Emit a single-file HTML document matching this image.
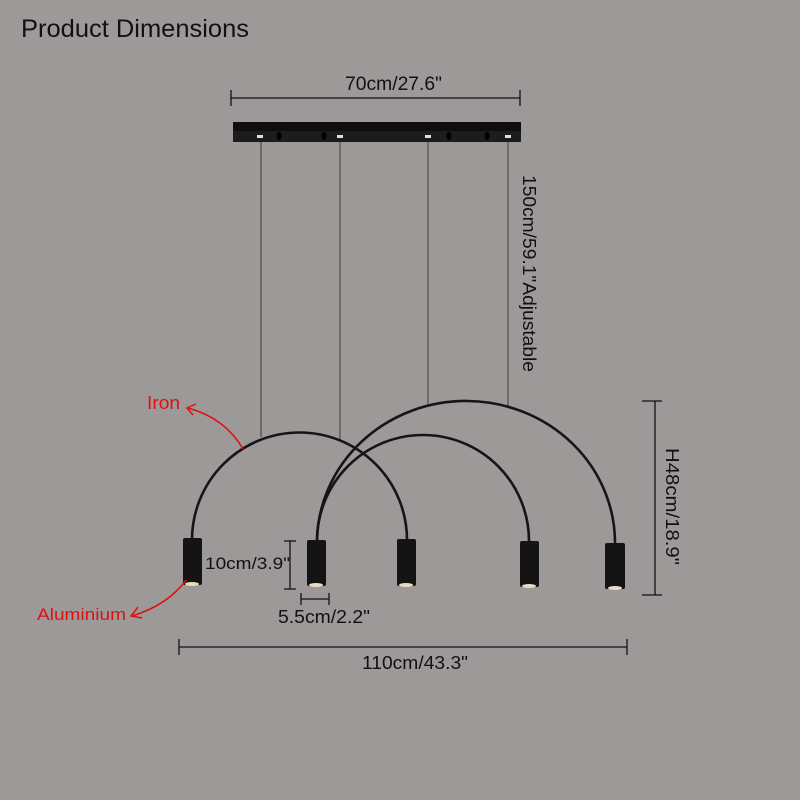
<!DOCTYPE html>
<html><head><style>html,body{margin:0;padding:0;background:#9c9998}svg{display:block}</style></head><body>
<svg width="800" height="800" viewBox="0 0 800 800" xmlns="http://www.w3.org/2000/svg" font-family="Liberation Sans, Arial, sans-serif">
<rect width="800" height="800" fill="#9c9998"/>
<text x="21" y="37" font-size="25" fill="#111" textLength="228" lengthAdjust="spacingAndGlyphs">Product Dimensions</text>
<g stroke="#111" stroke-width="1.3">
<line x1="231" y1="98" x2="520" y2="98"/><line x1="231" y1="90" x2="231" y2="106"/><line x1="520" y1="90" x2="520" y2="106"/>
</g>
<text x="345" y="90" font-size="19" fill="#111" textLength="97" lengthAdjust="spacingAndGlyphs">70cm/27.6"</text>
<rect x="233" y="122" width="288" height="20" fill="#1c1c1c"/>
<rect x="233" y="122" width="288" height="9" fill="#0e0e0e"/>
<g fill="#ddd"><rect x="257" y="135" width="6" height="3"/><rect x="337" y="135" width="6" height="3"/><rect x="425" y="135" width="6" height="3"/><rect x="505" y="135" width="6" height="3"/></g>
<g fill="#000"><ellipse cx="279" cy="136" rx="2.5" ry="4"/><ellipse cx="324" cy="136" rx="2.5" ry="4"/><ellipse cx="449" cy="136" rx="2.5" ry="4"/><ellipse cx="487" cy="136" rx="2.5" ry="4"/></g>
<g stroke="#333" stroke-width="0.9">
<line x1="261" y1="142" x2="261" y2="437"/><line x1="340" y1="142" x2="340" y2="440"/><line x1="428" y1="142" x2="428" y2="404"/><line x1="508" y1="142" x2="508" y2="407"/>
</g>
<text transform="translate(523,175) rotate(90)" font-size="18" fill="#111" textLength="197" lengthAdjust="spacingAndGlyphs">150cm/59.1"Adjustable</text>
<g fill="none" stroke="#151515" stroke-width="2.6">
<path d="M192,540 A107,107 0 0 1 407,540"/>
<path d="M317,541 A106,106 0 0 1 529,541"/>
<path d="M317,541 A149,142 0 0 1 615,545"/>
</g>
<g fill="#141414">
<rect x="183" y="538" width="19" height="47" rx="2"/>
<rect x="307" y="540" width="19" height="46" rx="2"/>
<rect x="397" y="539" width="19" height="47" rx="2"/>
<rect x="520" y="541" width="19" height="46" rx="2"/>
<rect x="605" y="543" width="20" height="46" rx="2"/>
</g>
<g fill="#e8dcc0"><ellipse cx="192" cy="584" rx="7" ry="2"/><ellipse cx="316" cy="585" rx="7" ry="2"/><ellipse cx="406" cy="585" rx="7" ry="2"/><ellipse cx="529" cy="586" rx="7" ry="2"/><ellipse cx="615" cy="588" rx="7" ry="2"/></g>
<g stroke="#111" stroke-width="1.3">
<line x1="655" y1="401" x2="655" y2="595"/><line x1="642" y1="401" x2="662" y2="401"/><line x1="642" y1="595" x2="662" y2="595"/>
<line x1="290" y1="541" x2="290" y2="589"/><line x1="284" y1="541" x2="296" y2="541"/><line x1="284" y1="589" x2="296" y2="589"/>
<line x1="301" y1="599" x2="329" y2="599"/><line x1="301" y1="593" x2="301" y2="605"/><line x1="329" y1="593" x2="329" y2="605"/>
<line x1="179" y1="647" x2="627" y2="647"/><line x1="179" y1="639" x2="179" y2="655"/><line x1="627" y1="639" x2="627" y2="655"/>
</g>
<text transform="translate(666,448) rotate(90)" font-size="18" fill="#111" textLength="117" lengthAdjust="spacingAndGlyphs">H48cm/18.9"</text>
<text x="205" y="569" font-size="17" fill="#111" textLength="85" lengthAdjust="spacingAndGlyphs">10cm/3.9"</text>
<text x="278" y="623" font-size="18" fill="#111" textLength="92" lengthAdjust="spacingAndGlyphs">5.5cm/2.2"</text>
<text x="362" y="669" font-size="18" fill="#111" textLength="106" lengthAdjust="spacingAndGlyphs">110cm/43.3"</text>
<text x="147" y="409" font-size="18" fill="#e01010" textLength="33" lengthAdjust="spacingAndGlyphs">Iron</text>
<text x="37" y="620" font-size="17" fill="#e01010" textLength="89" lengthAdjust="spacingAndGlyphs">Aluminium</text>
<g fill="none" stroke="#e01010" stroke-width="1.5">
<path d="M243,449 Q225,418 188,408"/><path d="M196,404 L187,408 L193,415"/>
<path d="M186,580 Q168,605 132,616"/><path d="M138,607 L131,616 L142,618"/>
</g>
</svg>
</body></html>
